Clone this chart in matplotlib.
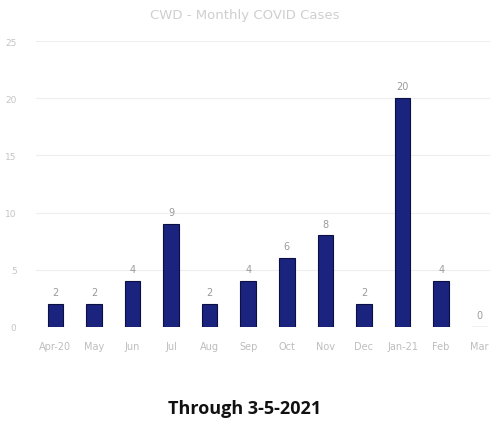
import matplotlib.pyplot as plt
import numpy as np

months = ['Apr-20', 'May', 'Jun', 'Jul', 'Aug', 'Sep', 'Oct', 'Nov', 'Dec', 'Jan-21', 'Feb', 'Mar']
cases = [2, 2, 4, 9, 2, 4, 6, 8, 2, 20, 4, 0]
yticks = [0, 5, 10, 15, 20, 25]

fig = plt.figure(figsize=(4.9, 4.27), dpi=100)
ax = fig.add_axes([36 / 490, 99 / 427, 463 / 490, 286 / 427])

x = np.arange(len(months))
bars = ax.bar(x, cases, width=0.4, color='#1a237e', edgecolor='#0b1040', linewidth=0.8, zorder=3)
for xi, v in zip(x, cases):
    ax.text(xi, v + 0.6, str(v), ha='center', va='bottom', fontsize=7, color='#9a9a9a')

ax.set_xlim(-0.5, 11.5)
ax.set_ylim(0, 25)
ax.set_yticks(yticks)
ax.set_yticklabels([str(t) for t in yticks], fontsize=6.5, color='#c4c4c4')
ax.set_xticks(x)
ax.set_xticklabels(months, fontsize=7, color='#bdbdbd')
ax.tick_params(length=0, pad=10)
ax.tick_params(axis='y', pad=14)
ax.grid(axis='y', color='#eeeeee', linewidth=0.8, zorder=0)
for s in ax.spines.values():
    s.set_visible(False)

fig.text(0.5, 1 - 16 / 427, 'CWD - Monthly COVID Cases', ha='center', va='center',
         fontsize=9.5, color='#cfcfcf')
fig.text(0.5, 1 - 409 / 427, 'Through 3-5-2021', ha='center', va='center',
         fontsize=13, fontweight='bold', color='#111111', family='Open Sans')

fig.savefig('out.png', dpi=100)
